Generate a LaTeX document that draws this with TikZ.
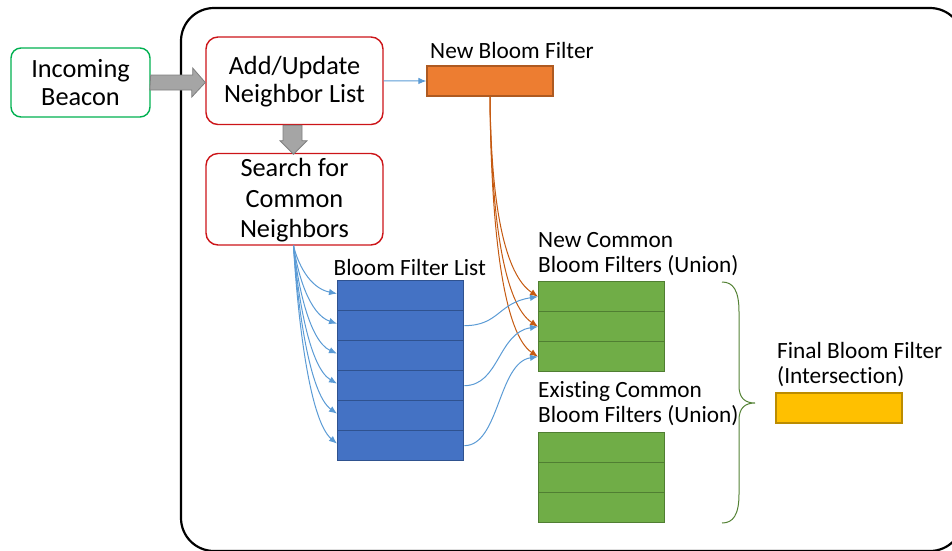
\documentclass[tikz,border=0pt]{standalone}
\usepackage{fontspec}
\setmainfont{Carlito}[Ligatures=NoCommon]
\usetikzlibrary{arrows.meta,calc}
\definecolor{frameblk}{RGB}{0,0,0}
\definecolor{beacongreen}{RGB}{0,176,80}
\definecolor{stepred}{RGB}{204,20,24}
\definecolor{arrowgrey}{RGB}{165,165,165}
\definecolor{arrowgreyline}{RGB}{127,127,127}
\definecolor{linkblue}{RGB}{91,155,213}
\definecolor{linkorange}{RGB}{197,90,17}
\definecolor{cellblue}{RGB}{68,114,196}
\definecolor{cellblueline}{RGB}{47,82,143}
\definecolor{cellgreen}{RGB}{112,173,71}
\definecolor{cellgreenline}{RGB}{80,126,50}
\definecolor{cellorange}{RGB}{237,125,49}
\definecolor{cellorangeline}{RGB}{174,90,33}
\definecolor{cellyellow}{RGB}{255,192,0}
\definecolor{cellyellowline}{RGB}{188,140,0}
\definecolor{bracegreen}{RGB}{84,130,53}
\begin{document}
\begin{tikzpicture}[x=1pt,y=-1pt,
  procbox/.style={draw=stepred, line width=1.4pt, rounded corners=12pt, inner sep=0},
  startbox/.style={draw=beacongreen, line width=1.4pt, rounded corners=10pt, inner sep=0},
  cellbase/.style={line width=1.3pt, minimum width=126pt, minimum height=30pt, inner sep=0, anchor=north west},
  bcell/.style={cellbase, draw=cellblueline, fill=cellblue},
  gcell/.style={cellbase, draw=cellgreenline, fill=cellgreen},
  bigtext/.style={font=\fontsize{26.3}{28}\selectfont, inner sep=0, anchor=base},
  smalltext/.style={font=\fontsize{23.3}{25}\selectfont, inner sep=0, anchor=base west},
  fatarrow/.style={draw=arrowgreyline, fill=arrowgrey, line width=0.8pt, line join=miter},
  bluelink/.style={draw=linkblue, line width=1pt, -{Latex[length=8pt,width=6.5pt]}},
  orangelink/.style={draw=linkorange, line width=1pt, -{Latex[length=8pt,width=6.5pt]}},
]
\useasboundingbox (0,0) rectangle (952,550);
\clip (0,0) rectangle (952,550);

% outer frame (runs past the right and bottom edges)
\draw[frameblk, line width=2.2pt, rounded corners=33pt] (181,8) rectangle (963,551);

% process boxes
\node[startbox, minimum width=139pt, minimum height=69pt] (inc) at (80.5,82.5) {};
\node[procbox, minimum width=177pt, minimum height=87.5pt] (add) at (294.5,80.75) {};
\node[procbox, minimum width=177pt, minimum height=91.5pt] (search) at (294.5,199.25) {};

\node[bigtext] (inctxt) at (80.5,77) {\begin{tabular}[t]{@{}c@{}}Incoming\\Beacon\end{tabular}};
\node[bigtext] (addtxt) at (294.5,74) {\begin{tabular}[t]{@{}c@{}}Add/Update\\Neighbor List\end{tabular}};
\node[bigtext, font=\fontsize{26.3}{30.5}\selectfont] (searchtxt) at (294.5,176.7) {\begin{tabular}[t]{@{}c@{}}Search for\\Common\\Neighbors\end{tabular}};

% wide grey arrows
\draw[fatarrow] (inc.east) ++(0,-7.5) -- ++(42,0) -- ++(0,-7) -- (add.west |- inc.east)
  -- ++(-13.5,14.5) -- ++(0,-7) -- ++(-42,0) -- cycle;
\draw[fatarrow] (add.south) ++(-11.5,0) -- ++(19,0) -- ++(0,15.5) -- ++(5,0)
  -- ++(-13.5,13.5) -- ++(-13.5,-13.5) -- ++(3,0) -- cycle;

% new bloom filter
\node[smalltext] (nbflbl) at (430,58.3) {New Bloom Filter};
\node[draw=cellorangeline, fill=cellorange, line width=1.2pt, minimum width=126pt, minimum height=30pt, inner sep=0] (nbf) at (490,81) {};

% bloom filter list
\node[smalltext] (bfllbl) at (333.5,275) {Bloom Filter List};
\foreach \i in {1,...,6} \node[bcell] (b\i) at (337,{250+30*\i}) {};

% new and existing common bloom filters
\node[smalltext] (ncl) at (538,247) {\begin{tabular}[t]{@{}l@{}}New Common\\Bloom Filters (Union)\end{tabular}};
\foreach \i in {1,2,3} \node[gcell] (n\i) at (538,{251+30*\i}) {};
\node[smalltext] (ecl) at (538,397) {\begin{tabular}[t]{@{}l@{}}Existing Common\\Bloom Filters (Union)\end{tabular}};
\foreach \i in {1,2,3} \node[gcell] (e\i) at (538,{402+30*\i}) {};

% final bloom filter
\node[smalltext] (fbl) at (777,358) {\begin{tabular}[t]{@{}l@{}}Final Bloom Filter\\(Intersection)\end{tabular}};
\node[draw=cellyellowline, fill=cellyellow, line width=1.2pt, minimum width=126pt, minimum height=30pt, inner sep=0] (fbf) at (839,408) {};

% brace grouping the common filters
\draw[bracegreen, line width=1pt] (722,282) .. controls (733,282) and (739,290) .. (739,312)
  -- (739,386) .. controls (739,398) and (745,403) .. (755,403)
  .. controls (745,403) and (739,408) .. (739,420)
  -- (739,494) .. controls (739,515) and (733,523) .. (722,523);

% links
\draw[bluelink] (add.east) -- (nbf.west);
\draw[orangelink] (nbf.south) .. controls +(1,110) and +(-33,-22) .. (n1.west);
\draw[orangelink] (nbf.south) .. controls +(1,126) and +(-33,-22) .. (n2.west);
\draw[orangelink] (nbf.south) .. controls +(1,143) and +(-33,-22) .. (n3.west);

% fan from the search step into the list, one link per entry
\coordinate (fan) at ($(search.south)+(-1,0)$);
\foreach \i/\dy in {1/48,2/78,3/108,4/138,5/167,6/197}
  \draw[bluelink] (fan) .. controls +(4,{0.35*\dy}) and +(-28,{-0.12*\dy}) .. ($(b\i.west)+(0,-2)$);

\draw[bluelink] (b2.east) .. controls +(35,0) and +(-40,6) .. (n1.west);
\draw[bluelink] (b4.east) .. controls +(35,0) and +(-40,6) .. (n2.west);
\draw[bluelink] (b6.east) .. controls +(35,0) and +(-40,6) .. (n3.west);
\end{tikzpicture}
\end{document}
